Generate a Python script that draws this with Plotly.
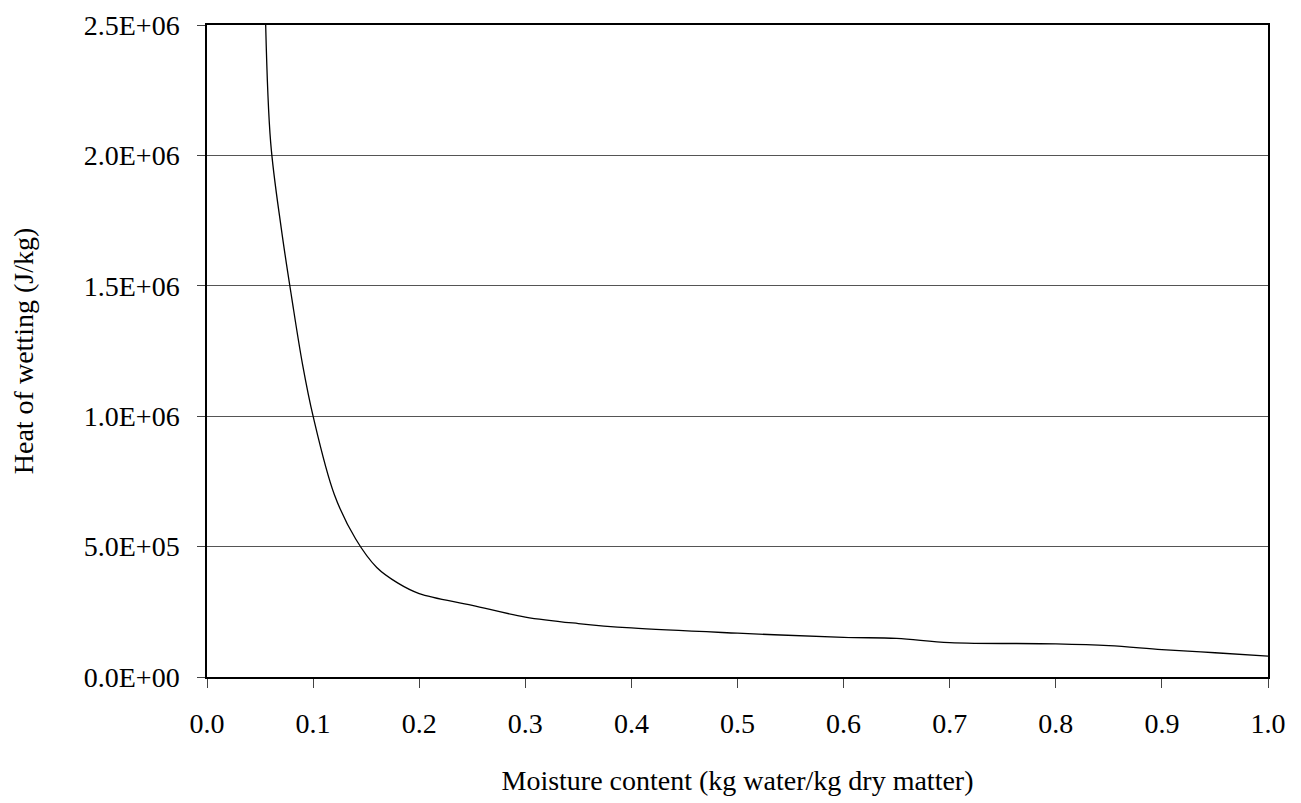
import plotly.graph_objects as go

moisture = [0.055, 0.06, 0.07, 0.08, 0.09, 0.10, 0.12, 0.14, 0.16, 0.18, 0.20, 0.25,
            0.30, 0.35, 0.40, 0.50, 0.60, 0.65, 0.70, 0.80, 0.85, 0.90, 0.95, 1.00]
heat = [2.55e6, 2.05e6, 1.72e6, 1.45e6, 1.2e6, 1.0e6, 7.0e5, 5.3e5, 4.2e5, 3.6e5, 3.2e5, 2.75e5,
        2.3e5, 2.05e5, 1.88e5, 1.68e5, 1.52e5, 1.48e5, 1.32e5, 1.27e5, 1.2e5, 1.05e5, 9.3e4, 8.0e4]
y_ticks = [0, 5e5, 1e6, 1.5e6, 2e6, 2.5e6]
y_labels = ["0.0E+00", "5.0E+05", "1.0E+06", "1.5E+06", "2.0E+06", "2.5E+06"]

fig = go.Figure(go.Scatter(x=moisture, y=heat, mode="lines", cliponaxis=False,
                           line=dict(color="black", width=1.3, shape="spline")))

# page body adds an 8px offset, so margins are shifted to compensate
fig.update_layout(
    width=1301, height=803, plot_bgcolor="white", paper_bgcolor="white",
    margin=dict(l=199, r=41, t=17, b=134), showlegend=False,
    font=dict(family="Liberation Serif", size=28, color="black"),
)
fig.update_xaxes(range=[0, 1], dtick=0.1, tickformat=".1f", showgrid=False, showline=True,
                 linecolor="black", linewidth=1.5, mirror=True, ticks="outside", ticklen=9,
                 automargin=False, tickfont=dict(size=28), ticklabelstandoff=12,
                 title=dict(text="Moisture content (kg water/kg dry matter)", standoff=32,
                            font=dict(size=28)))
fig.update_yaxes(range=[0, 2.5e6], tickvals=y_ticks, ticktext=y_labels, showgrid=True, gridcolor="#555",
                 gridwidth=1, showline=True, linecolor="black", linewidth=1.5, mirror=True,
                 ticks="outside", ticklen=8, zeroline=False, automargin=False,
                 tickfont=dict(size=28), ticklabelstandoff=12,
                 title=dict(text="Heat of wetting (J/kg)", standoff=45, font=dict(size=28)))
fig.write_html("out.html")
